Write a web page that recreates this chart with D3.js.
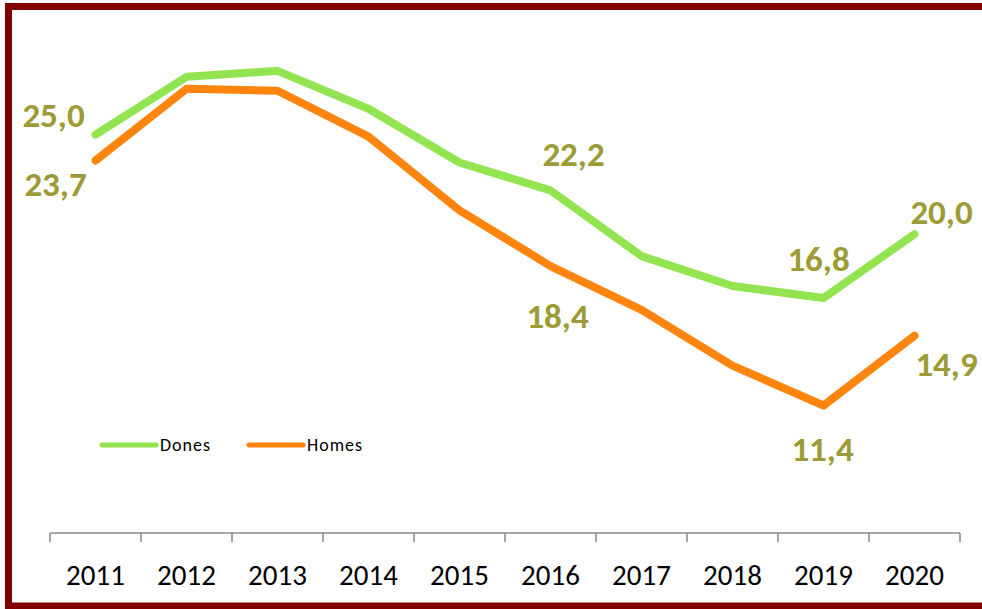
<!DOCTYPE html>
<html>
<head>
<meta charset="utf-8">
<script src="https://cdn.jsdelivr.net/npm/d3@7"></script>
<style>
  body { margin: 0; background: #fff; }
  svg { display: block; font-family: Carlito, Calibri, Lato, sans-serif; }
</style>
</head>
<body>
<script>
// data
var years = ["2011", "2012", "2013", "2014", "2015", "2016", "2017", "2018", "2019", "2020"];
var dones = [25.0, 27.9, 28.2, 26.3, 23.6, 22.2, 18.9, 17.4, 16.8, 20.0];
var homes = [23.7, 27.3, 27.2, 24.9, 21.2, 18.4, 16.2, 13.4, 11.4, 14.9];
var seriesNames = ["Dones", "Homes"];

// which points carry a value label, and where it sits relative to the point
var labelPos = [
  {s: 0, i: 0, dx: -42, dy: -8},
  {s: 1, i: 0, dx: -40, dy: 36},
  {s: 0, i: 5, dx: 23, dy: -24},
  {s: 1, i: 5, dx: 7, dy: 62},
  {s: 0, i: 8, dx: -5, dy: -27},
  {s: 1, i: 8, dx: -1, dy: 55},
  {s: 0, i: 9, dx: 27, dy: -10},
  {s: 1, i: 9, dx: 32, dy: 40}
];

var W = 982, H = 609;
var colors = ["#92e450", "#ff850f"];
var series = [dones, homes];

var svg = d3.select("body").append("svg")
    .attr("width", W)
    .attr("height", H);

var x = d3.scaleBand().domain(years).range([50, 960]).padding(0);
var y = d3.scaleLinear().domain([5, 30]).range([533, 35]);

// frame (open on the right, like the cropped original)
svg.append("rect")
    .attr("x", 8.5).attr("y", 6.5)
    .attr("width", 1100).attr("height", 599.5)
    .attr("fill", "none")
    .attr("stroke", "#800000")
    .attr("stroke-width", 7);

// x axis
var xAxis = d3.axisBottom(x).tickSize(0).tickPadding(31);
var gx = svg.append("g").attr("transform", "translate(0,533)").call(xAxis);
gx.select(".domain").attr("stroke", "#898989").attr("stroke-width", 1.5)
    .attr("d", "M50,0H960");
gx.selectAll(".tick text")
    .attr("font-size", 29)
    .attr("fill", "#000")
    .attr("font-family", "Carlito, Calibri, Lato, sans-serif");
// tick marks sit between categories
svg.append("g").selectAll("line")
    .data(d3.range(years.length + 1))
    .enter().append("line")
    .attr("x1", function(d) { return 50 + d * x.bandwidth(); })
    .attr("x2", function(d) { return 50 + d * x.bandwidth(); })
    .attr("y1", 533).attr("y2", 542)
    .attr("stroke", "#898989").attr("stroke-width", 1.5);

var line = d3.line()
    .x(function(d, i) { return x(years[i]) + x.bandwidth() / 2; })
    .y(function(d) { return y(d); });

svg.selectAll("path.series")
    .data(series)
    .enter().append("path")
    .attr("class", "series")
    .attr("d", line)
    .attr("fill", "none")
    .attr("stroke", function(d, i) { return colors[i]; })
    .attr("stroke-width", 8)
    .attr("stroke-linejoin", "round")
    .attr("stroke-linecap", "round");

// value labels
svg.selectAll("text.val")
    .data(labelPos)
    .enter().append("text")
    .attr("class", "val")
    .attr("x", function(d) { return x(years[d.i]) + x.bandwidth() / 2 + d.dx; })
    .attr("y", function(d) { return y(series[d.s][d.i]) + d.dy; })
    .attr("text-anchor", "middle")
    .attr("font-size", 35)
    .attr("font-weight", "bold")
    .attr("fill", "#9c9b35")
    .text(function(d) { return series[d.s][d.i].toFixed(1).replace(".", ","); });

// legend
var leg = svg.append("g").selectAll("g")
    .data(seriesNames)
    .enter().append("g")
    .attr("transform", function(d, i) { return "translate(" + (102 + i * 147) + ",445)"; });
leg.append("line")
    .attr("x1", 0).attr("x2", 54)
    .attr("stroke", function(d, i) { return colors[i]; })
    .attr("stroke-width", 5)
    .attr("stroke-linecap", "round");
leg.append("text")
    .attr("x", 58).attr("y", 6)
    .attr("font-size", 18)
    .attr("letter-spacing", 1)
    .attr("fill", "#000")
    .text(function(d) { return d; });
</script>
</body>
</html>
